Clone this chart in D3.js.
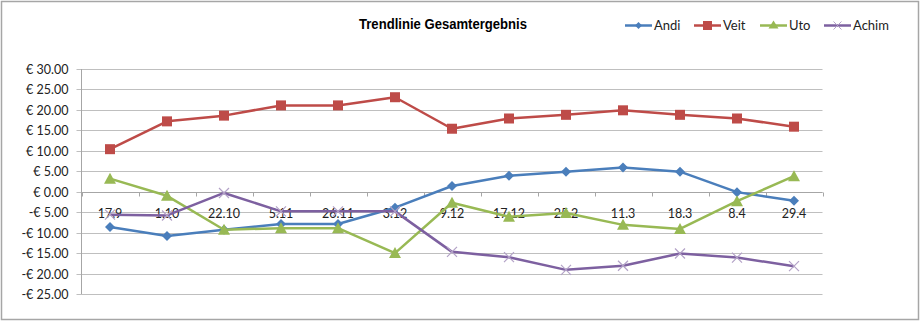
<!DOCTYPE html>
<html><head><meta charset="utf-8">
<script src="https://cdn.jsdelivr.net/npm/d3@7"></script>
<style>body{margin:0;background:#fff}</style>
</head><body>
<svg id="c" width="920" height="322"></svg>
<script>
const categories = ["17.9","1.10","22.10","5.11","26.11","3.12","9.12","17.12","25.2","11.3","18.3","8.4","29.4"];
const andi  = [-8.6,-10.8,-9.3,-7.9,-7.9,-3.9,1.4,3.9,4.9,5.9,4.9,-0.1,-2.2];
const veit  = [10.4,17.2,18.6,21.1,21.1,23.1,15.4,17.9,18.8,19.9,18.8,17.9,15.9];
const uto   = [3.2,-1.0,-9.3,-8.9,-8.9,-15.0,-2.7,-6.1,-5.2,-8.1,-9.1,-2.3,3.8];
const achim = [-5.6,-5.8,-0.3,-4.8,-4.8,-4.8,-14.7,-16.0,-19.1,-18.1,-15.1,-16.1,-18.2];
const yTicks = [30,25,20,15,10,5,0,-5,-10,-15,-20,-25];
const seriesNames = ["Andi","Veit","Uto","Achim"];
const title = "Trendlinie Gesamtergebnis";

const series = [
  {name:"Andi", values:andi, color:"#4A7EBB", marker:"diamond"},
  {name:"Veit", values:veit, color:"#BE4B48", marker:"square"},
  {name:"Uto", values:uto, color:"#98B954", marker:"triangle"},
  {name:"Achim", values:achim, color:"#7D60A0", marker:"x"}
];

const svg = d3.select("#c");
svg.append("rect").attr("x",1.5).attr("y",1.5).attr("width",917).attr("height",318)
  .attr("fill","none").attr("stroke","#A6A6A6").attr("stroke-width",1.5);

const pL = 81.5, pR = 822.5, pT = 69, pB = 294;
const x = d3.scaleBand().domain(categories).range([pL,pR]);
const y = d3.scaleLinear().domain([-25,30]).range([pB,pT]);

svg.append("g").selectAll("line").data(yTicks).join("line")
  .attr("x1",pL-5).attr("x2",pR).attr("y1",d=>Math.round(y(d))+0.5).attr("y2",d=>Math.round(y(d))+0.5)
  .attr("stroke","#BFBFBF").attr("stroke-width",1);

const ya = svg.append("g").attr("transform",`translate(${pL},0)`)
  .call(d3.axisLeft(y).tickValues(yTicks).tickSize(0).tickPadding(13)
    .tickFormat(d=> (d<0?"-€ ":"€ ") + Math.abs(d).toFixed(2)));
ya.select(".domain").attr("stroke","#A6A6A6").attr("d",`M0,${pT}V${pB}`);
ya.selectAll("text").attr("font-family","Lato, 'Open Sans', sans-serif").attr("font-size",12.5).attr("fill","#222");
ya.selectAll(".tick").attr("transform",d=>`translate(0,${Math.round(y(d))+0.5})`);

const y0 = Math.round(y(0))+0.5;
const xa = svg.append("g").attr("transform",`translate(0,${y0})`);
xa.append("line").attr("x1",pL).attr("x2",pR).attr("stroke","#A6A6A6");
const bounds = categories.map(c=>x(c)).concat([pR]);
xa.selectAll("line.t").data(bounds).join("line").attr("class","t")
  .attr("x1",d=>Math.round(d)+0.5).attr("x2",d=>Math.round(d)+0.5).attr("y1",0).attr("y2",4).attr("stroke","#A6A6A6");
xa.selectAll("text").data(categories).join("text")
  .attr("x",d=>x(d)+x.bandwidth()/2).attr("y",25).attr("text-anchor","middle")
  .attr("font-family","Lato, 'Open Sans', sans-serif").attr("font-size",12.5).attr("fill","#222").text(d=>d);

const cx = i => x(categories[i]) + x.bandwidth()/2;
const line = d3.line().x((d,i)=>cx(i)).y(d=>y(d));

function marker(g, type, color, px, py){
  if(type==="diamond"){
    g.append("path").attr("d",`M${px},${py-5}L${px+5},${py}L${px},${py+5}L${px-5},${py}Z`).attr("fill",color);
  } else if(type==="square"){
    g.append("rect").attr("x",px-5).attr("y",py-5).attr("width",10).attr("height",10).attr("fill",color);
  } else if(type==="triangle"){
    g.append("path").attr("d",`M${px},${py-6}L${px+6},${py+5}L${px-6},${py+5}Z`).attr("fill",color);
  } else {
    g.append("path").attr("d",`M${px-5},${py-5}L${px+5},${py+5}M${px-5},${py+5}L${px+5},${py-5}`)
      .attr("stroke","#B3A2C7").attr("stroke-width",1.2);
  }
}

series.forEach(s=>{
  const g = svg.append("g");
  g.append("path").datum(s.values).attr("d",line).attr("fill","none")
    .attr("stroke",s.color).attr("stroke-width",2.5).attr("stroke-linejoin","round");
  s.values.forEach((v,i)=>marker(g,s.marker,s.color,cx(i),y(v)));
});

svg.append("text").attr("x",359).attr("y",28.5)
  .attr("font-family","'Liberation Sans', Arial, sans-serif").attr("font-weight","bold")
  .attr("font-size",15).attr("fill","#000")
  .attr("textLength",168).attr("lengthAdjust","spacingAndGlyphs").text(title);

const legX = [625, 694, 760, 824];
const lg = svg.append("g");
series.forEach((s,i)=>{
  const lx = legX[i], ly = 25.5;
  lg.append("line").attr("x1",lx).attr("x2",lx+27).attr("y1",ly).attr("y2",ly).attr("stroke",s.color).attr("stroke-width",2.5);
  const mg = lg.append("g");
  if(s.marker==="diamond") mg.append("path").attr("d",`M${lx+13.5},${ly-3.5}L${lx+17},${ly}L${lx+13.5},${ly+3.5}L${lx+10},${ly}Z`).attr("fill",s.color);
  else if(s.marker==="square") mg.append("rect").attr("x",lx+9).attr("y",ly-4.5).attr("width",9).attr("height",9).attr("fill",s.color);
  else if(s.marker==="triangle") mg.append("path").attr("d",`M${lx+13.5},${ly-5}L${lx+18.5},${ly+3}L${lx+8.5},${ly+3}Z`).attr("fill",s.color);
  else mg.append("path").attr("d",`M${lx+9.5},${ly-4}L${lx+17.5},${ly+4}M${lx+9.5},${ly+4}L${lx+17.5},${ly-4}`).attr("stroke","#B3A2C7").attr("stroke-width",1);
  lg.append("text").attr("x",lx+29).attr("y",ly+4.5).attr("font-family","Lato, 'Open Sans', sans-serif")
    .attr("font-size",13).attr("fill","#222").text(seriesNames[i]);
});
</script>
</body></html>
